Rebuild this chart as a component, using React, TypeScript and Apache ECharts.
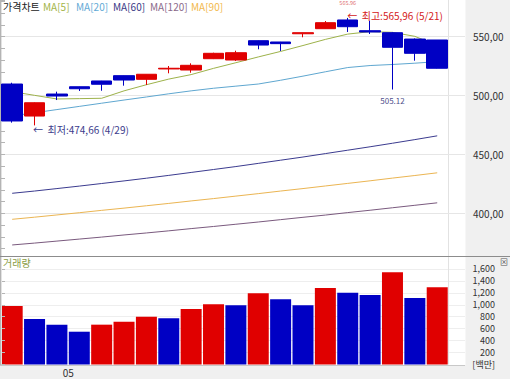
import React, { useEffect, useRef } from "react";
import * as echarts from "echarts";

const FONT = '"Noto Sans CJK KR", "Noto Sans", sans-serif';

const dates = ["4/26", "4/29", "4/30", "5/2", "5/3", "5/6", "5/7", "5/8", "5/9", "5/10", "5/13", "5/14", "5/15", "5/16", "5/20", "5/21", "5/22", "5/23", "5/24", "5/27"];
const opens = [509.8, 482.6, 501.3, 507.5, 512.4, 516.9, 513.8, 522.6, 521.7, 531.3, 530.2, 546.6, 545.5, 552.5, 556.8, 564.2, 555.1, 553.4, 548.0, 547.2];
const closes = [478.4, 493.9, 499.6, 505.8, 509.6, 513.2, 518.1, 523.2, 525.7, 535.9, 536.4, 542.9, 544.1, 553.4, 561.9, 558.5, 554.0, 541.0, 535.9, 523.2];
const lows = [477.0, 474.66, 496.2, 503.9, 504.1, 508.4, 509.0, 518.9, 519.4, 531.0, 529.4, 539.3, 537.9, 549.5, 556.6, 554.0, 552.3, 505.12, 529.6, 523.0];
const highs = [510.9, 494.2, 503.3, 507.6, 512.5, 517.0, 518.2, 525.1, 527.4, 536.4, 538.1, 546.8, 545.6, 553.5, 563.3, 565.96, 563.6, 554.0, 548.5, 547.2];

const ma5 = [503.3, 500.2, 497.1, 497.4, 497.7, 504.0, 509.2, 514.0, 517.8, 523.1, 527.9, 532.8, 537.5, 542.5, 547.7, 552.2, 554.3, 553.7, 550.3, 542.6];
const ma20 = [482.7, 485.4, 488.1, 490.8, 493.5, 496.2, 498.8, 501.5, 504.0, 506.2, 508.0, 509.8, 513.0, 516.5, 520.2, 523.8, 525.5, 526.4, 527.5, 528.8];
const ma60 = [417.0, 418.9, 421.0, 423.1, 425.3, 427.5, 429.8, 432.2, 434.7, 437.2, 439.7, 442.4, 445.1, 447.8, 450.7, 453.6, 456.5, 459.5, 462.6, 465.8];
const ma90 = [394.9, 396.7, 398.6, 400.5, 402.5, 404.4, 406.4, 408.4, 410.5, 412.5, 414.6, 416.7, 418.9, 421.0, 423.2, 425.4, 427.6, 429.9, 432.1, 434.4];
const ma120 = [373.1, 374.7, 376.4, 378.1, 379.8, 381.6, 383.3, 385.1, 387.0, 388.8, 390.7, 392.6, 394.6, 396.6, 398.5, 400.6, 402.6, 404.7, 406.8, 408.9];

const volumes = [980, 762, 667, 549, 667, 717, 801, 774, 930, 1008, 992, 1193, 1092, 992, 1281, 1203, 1164, 1544, 1114, 1293];
const volumeDir = ["up", "down", "down", "down", "up", "up", "up", "down", "up", "up", "down", "up", "down", "down", "up", "down", "down", "up", "down", "up"];

const legendItems = ["가격차트", "MA[5]", "MA[20]", "MA[60]", "MA[120]", "MA[90]"];
const priceMin = 363.73;
const priceMax = 581.17;
const volMax = 1800;
const volInterval = 200;

const lowLabel = "←  최저:474,66 (4/29)";
const highLabel = "←  최고:565,96 (5/21)";

const RED = "#e00000";
const BLUE = "#0000c4";
const MA_COLORS = ["#9db24a", "#5fa7d0", "#3b3b8f", "#7a5a7e", "#ebb552"];
const LEGEND_COLORS = ["#222222", "#a3b548", "#63aad6", "#3a3a86", "#8a6a8a", "#f2b94c"];
const LEGEND_X = [3, 43, 76, 113, 150, 191];

export default function App() {
  const ref = useRef<HTMLDivElement>(null);
  useEffect(() => {
    if (!ref.current) return;
    const chart = echarts.init(ref.current, null, { renderer: "svg" });
    const axisGray = "#b4b4b4";
    const gridLine = "#e6e6e6";
    const candleData = dates.map((_, i) => [opens[i], closes[i], lows[i], highs[i]]);
    const maSeries = [ma5, ma20, ma60, ma120, ma90].map((d, k) => ({
      type: "line",
      xAxisIndex: 1,
      yAxisIndex: 1,
      data: d,
      symbol: "none",
      smooth: false,
      lineStyle: { color: MA_COLORS[k], width: 1 },
      z: 3,
    }));
    const option: any = {
      animation: false,
      textStyle: { fontFamily: FONT },
      grid: [
        { left: 0, right: 45, top: 0, height: 256 },
        { left: 1, right: 61.6, top: 0, height: 256 },
        { left: 0, right: 45, top: 257, bottom: 14.5 },
        { left: 1, right: 61.6, top: 257, bottom: 14.5 },
      ],
      xAxis: [
        { gridIndex: 0, type: "value", min: 0, max: 1, show: false },
        {
          gridIndex: 1,
          type: "category",
          data: dates,
          axisLine: { show: false },
          axisTick: { show: false },
          axisLabel: { show: false },
          splitLine: { show: true, interval: (i: number) => i === 3, lineStyle: { color: "#e2e2e2" } },
        },
        { gridIndex: 2, type: "value", min: 0, max: 1, show: false },
        {
          gridIndex: 3,
          type: "category",
          data: dates,
          axisLine: { show: false },
          axisTick: { show: false },
          axisLabel: {
            show: true,
            interval: (i: number) => i === 3,
            margin: 3,
            formatter: (v: string) => "{m|0" + v.split("/")[0] + "}",
            rich: { m: { padding: [0, 22, 0, 0], fontSize: 10, color: "#333", fontFamily: FONT } },
          },
          splitLine: { show: true, interval: (i: number) => i === 3, lineStyle: { color: "#e2e2e2" } },
          z: 5,
        },
      ],
      yAxis: [
        {
          gridIndex: 0,
          type: "value",
          position: "right",
          min: priceMin,
          max: priceMax,
          splitNumber: 5,
          axisLine: { show: true, lineStyle: { color: axisGray } },
          axisTick: { show: true, length: 5, lineStyle: { color: axisGray } },
          minorTick: { show: true, splitNumber: 5, length: 5, lineStyle: { color: axisGray } },
          axisLabel: {
            showMinLabel: false,
            showMaxLabel: false,
            margin: 8,
            color: "#333",
            fontSize: 10,
            fontFamily: FONT,
            formatter: (v: number) => v.toFixed(2).replace(".", ","),
          },
          splitLine: { show: true, showMinLine: false, showMaxLine: false, lineStyle: { color: gridLine } },
          z: 2,
        },
        { gridIndex: 1, type: "value", min: priceMin, max: priceMax, show: false, splitLine: { show: false } },
        {
          gridIndex: 2,
          type: "value",
          position: "right",
          min: 0,
          max: volMax,
          interval: volInterval,
          axisLine: { show: true, lineStyle: { color: axisGray } },
          axisTick: { show: true, length: 5, lineStyle: { color: axisGray } },
          axisLabel: {
            showMaxLabel: false,
            align: "right",
            margin: 30,
            color: "#333",
            fontSize: 9,
            lineHeight: 10,
            fontFamily: FONT,
            formatter: (v: number) => (v === 0 ? "[백만]" : v.toLocaleString("en-US")),
          },
          splitLine: { show: true, showMinLine: false, showMaxLine: false, lineStyle: { color: "#eeeeee" } },
          z: 2,
        },
        { gridIndex: 3, type: "value", min: 0, max: volMax, show: false, splitLine: { show: false } },
      ],
      series: [
        {
          type: "candlestick",
          xAxisIndex: 1,
          yAxisIndex: 1,
          data: candleData,
          barWidth: 21,
          itemStyle: { color: RED, color0: BLUE, borderColor: RED, borderColor0: BLUE, borderWidth: 1 },
          z: 4,
          markPoint: {
            symbol: "circle",
            symbolSize: 1,
            itemStyle: { color: "rgba(0,0,0,0)" },
            data: [
              {
                coord: [1, lows[1]],
                label: { show: true, position: "right", distance: 0, offset: [-2, 4], formatter: lowLabel, color: "#3c3c8c", fontSize: 10, fontFamily: FONT },
              },
              {
                coord: [15, highs[15]],
                label: { show: true, position: "top", distance: 11, formatter: String(highs[15]), color: "#e07070", fontSize: 5.5, lineHeight: 6, fontFamily: FONT },
              },
              {
                coord: [15, highs[15]],
                label: { show: true, position: "right", distance: 0, offset: [-1, -2], formatter: highLabel, color: "#d42020", fontSize: 10, lineHeight: 9, fontFamily: FONT },
              },
              {
                coord: [17, lows[17]],
                label: { show: true, position: "bottom", distance: 6, formatter: lows[17].toFixed(2), color: "#50508c", fontSize: 8, fontFamily: FONT },
              },
            ],
          },
        },
        ...maSeries,
        {
          type: "bar",
          xAxisIndex: 3,
          yAxisIndex: 3,
          barWidth: 21,
          data: volumes.map((v, i) => ({ value: v, itemStyle: { color: volumeDir[i] === "up" ? RED : BLUE } })),
        },
      ],
      graphic: [
        { type: "rect", shape: { x: 465.5, y: 0, width: 44.5, height: 379 }, style: { fill: "#f0f0f0" }, z: -1, silent: true },
        { type: "rect", shape: { x: 0, y: 365, width: 510, height: 14 }, style: { fill: "#f0f0f0" }, z: -1, silent: true },
        { type: "line", shape: { x1: 0, y1: 256.5, x2: 510, y2: 256.5 }, style: { stroke: "#8c8c8c", lineWidth: 1 }, z: 6, silent: true },
        { type: "line", shape: { x1: 0, y1: 365.5, x2: 465, y2: 365.5 }, style: { stroke: "#c8c8c8", lineWidth: 1 }, z: 6, silent: true },
        ...legendItems.map((t, i) => ({
          type: "text",
          x: LEGEND_X[i],
          y: 6,
          z: 10,
          style: { text: t, fill: LEGEND_COLORS[i], fontSize: 10, fontFamily: FONT, verticalAlign: "middle" },
        })),
        { type: "text", x: 3, y: 262.5, z: 10, style: { text: "거래량", fill: "#8a9c44", fontSize: 10, fontFamily: FONT, verticalAlign: "middle" } },
        { type: "text", x: 500, y: 261, z: 10, style: { text: "⊠", fill: "#555", fontSize: 8, fontFamily: FONT, verticalAlign: "middle" } },
      ],
    };
    chart.setOption(option);
    return () => chart.dispose();
  }, []);
  return <div ref={ref} style={{ position: "fixed", left: 0, top: 0, width: 510, height: 379, background: "#fff" }} />;
}
